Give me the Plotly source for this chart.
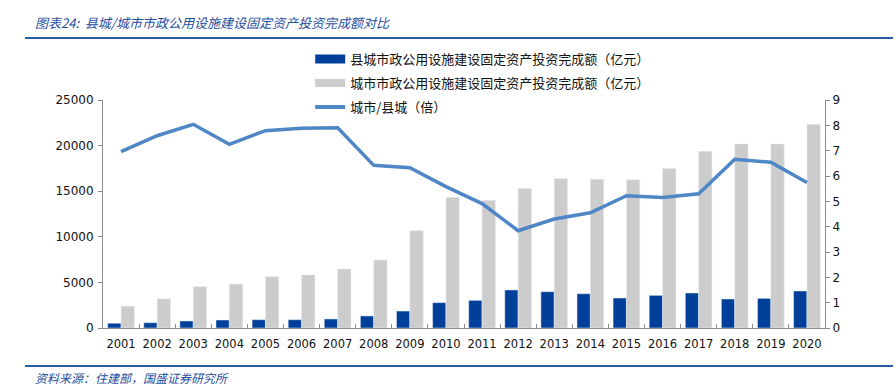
import plotly.graph_objects as go

years = [str(y) for y in range(2001, 2021)]
county = [520, 580, 770, 880, 910, 910, 990, 1320, 1860, 2780, 3030, 4170, 3980, 3760, 3290, 3580, 3840, 3180, 3250, 4060]
city = [2400, 3200, 4530, 4820, 5630, 5810, 6470, 7460, 10670, 14330, 14000, 15300, 16400, 16300, 16260, 17500, 19370, 20180, 20180, 22330]
ratio = [6.96, 7.59, 8.04, 7.25, 7.79, 7.88, 7.9, 6.42, 6.33, 5.58, 4.91, 3.84, 4.3, 4.55, 5.22, 5.15, 5.3, 6.66, 6.54, 5.74]

name_county = "县城市政公用设施建设固定资产投资完成额（亿元）"
name_city = "城市市政公用设施建设固定资产投资完成额（亿元）"
name_ratio = "城市/县城（倍）"

C_BLUE = "#00409A"
C_GREY = "#CCCCCC"
C_LINE = "#4F86C6"
AX = "#8C8C8C"
TITLE_C = "#1F4E9E"

fig = go.Figure()
fig.add_trace(go.Bar(x=years, y=county, marker_color=C_BLUE, name=name_county, showlegend=False))
fig.add_trace(go.Bar(x=years, y=city, marker_color=C_GREY, name=name_city, showlegend=False))
fig.add_trace(go.Scatter(x=years, y=ratio, yaxis="y2", mode="lines",
                         line=dict(color=C_LINE, width=3.5), name=name_ratio, showlegend=False))

# legend proxies
fig.add_trace(go.Scatter(x=[None], y=[None], mode="lines", line=dict(color=C_BLUE, width=9),
                         name=name_county, legendgroup="a"))
fig.add_trace(go.Scatter(x=[None], y=[None], mode="lines", line=dict(color=C_GREY, width=8),
                         name=name_city, legendgroup="b"))
fig.add_trace(go.Scatter(x=[None], y=[None], mode="lines", line=dict(color=C_LINE, width=4),
                         name=name_ratio, legendgroup="c"))

fig.update_layout(
    width=895, height=388,
    margin=dict(l=103, r=70, t=100, b=60, autoexpand=False),
    paper_bgcolor="white", plot_bgcolor="white",
    barmode="group", bargap=0.26, bargroupgap=0,
    font=dict(family="DejaVu Sans, Noto Sans CJK SC", size=12, color="#111111"),
    showlegend=True,
    legend=dict(x=0.287, y=1.245, xanchor="left", yanchor="top",
                bgcolor="rgba(0,0,0,0)", traceorder="grouped", tracegroupgap=4,
                font=dict(family="Noto Sans CJK SC", size=13, color="#111111"),
                itemwidth=30),
    xaxis=dict(type="category", showline=True, linecolor=AX, linewidth=1,
               ticks="inside", ticklen=4, tickcolor=AX, tickson="boundaries",
               tickangle=0, tickfont=dict(size=11.5), ticklabelstandoff=5,
               showgrid=False, zeroline=False),
    yaxis=dict(range=[0, 25000], dtick=5000, tickformat="d", showline=True, linecolor=AX, linewidth=1,
               ticks="outside", ticklen=4, tickcolor=AX, showgrid=False, zeroline=False,
               tickfont=dict(size=12), ticklabelstandoff=2),
    yaxis2=dict(range=[0, 9], dtick=1, overlaying="y", side="right", showline=True,
                linecolor=AX, linewidth=1, ticks="outside", ticklen=4, tickcolor=AX,
                showgrid=False, zeroline=False, tickfont=dict(size=12)),
)

fig.add_annotation(text="图表24:  县城/城市市政公用设施建设固定资产投资完成额对比",
                   xref="paper", yref="paper", x=-(103 - 33) / 722, y=(328 - 23) / 228,
                   xanchor="left", yanchor="middle", showarrow=False,
                   font=dict(family="Noto Sans CJK SC", size=13, color=TITLE_C, style="italic"))
fig.add_annotation(text="资料来源：住建部，国盛证券研究所",
                   xref="paper", yref="paper", x=-(103 - 33) / 722, y=(328 - 377) / 228,
                   xanchor="left", yanchor="middle", showarrow=False,
                   font=dict(family="Noto Sans CJK SC", size=12, color=TITLE_C, style="italic"))
fig.add_shape(type="line", xref="paper", yref="paper",
              x0=-(103 - 25) / 722, x1=(893 - 103) / 722, y0=(328 - 38) / 228, y1=(328 - 38) / 228,
              line=dict(color="#2A5BAA", width=2))
fig.add_shape(type="line", xref="paper", yref="paper",
              x0=-(103 - 25) / 722, x1=(893 - 103) / 722, y0=(328 - 366) / 228, y1=(328 - 366) / 228,
              line=dict(color="#2A5BAA", width=2))

fig.write_html("out.html", config={"displayModeBar": False},
               post_script="document.body.style.margin='0';")
